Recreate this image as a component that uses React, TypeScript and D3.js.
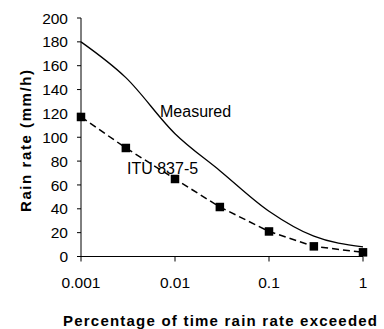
import * as d3 from "d3";

const percentages = [0.001, 0.003, 0.01, 0.03, 0.1, 0.3, 1];
const measured = [180, 150, 103, 72, 38, 17, 8];
const itu = [117, 91, 65, 41.5, 21, 8.5, 3.5];
const yTicks = [0, 20, 40, 60, 80, 100, 120, 140, 160, 180, 200];
const xTicks = [0.001, 0.01, 0.1, 1];

const W = 384;
const H = 329;
const font = "Arial, 'Liberation Sans', sans-serif";

const App = () => {
	const x = d3.scaleLog().domain([0.001, 1]).range([81, 363]);
	const y = d3.scaleLinear().domain([0, 200]).range([256.5, 18]);

	const measuredLine = d3
		.line<number>()
		.x((_, i) => x(percentages[i]))
		.y((d) => y(d))
		.curve(d3.curveMonotoneX);
	const ituLine = d3
		.line<number>()
		.x((_, i) => x(percentages[i]))
		.y((d) => y(d));

	return (
		<svg
			width={W}
			height={H}
			style={{position: "absolute", left: 0, top: 0, background: "#fff"}}
			fontFamily={font}
		>
			{/* y axis */}
			<line x1={81} x2={81} y1={y(200)} y2={y(0)} stroke="#000" />
			{yTicks.map((t) => (
				<g key={t}>
					<line x1={77} x2={81} y1={y(t)} y2={y(t)} stroke="#000" />
					<text x={68} y={y(t)} dy="0.36em" textAnchor="end" fontSize={15.5}>
						{t}
					</text>
				</g>
			))}
			{/* x axis */}
			<line x1={x(0.001)} x2={x(1)} y1={y(0)} y2={y(0)} stroke="#000" />
			{xTicks.map((t) => (
				<g key={t}>
					<line x1={x(t)} x2={x(t)} y1={y(0)} y2={y(0) + 5} stroke="#000" />
					<text x={x(t)} y={y(0) + 31} textAnchor="middle" fontSize={15.5}>
						{t}
					</text>
				</g>
			))}

			<path d={measuredLine(measured) ?? ""} fill="none" stroke="#000" strokeWidth={1.3} />
			<path
				d={ituLine(itu) ?? ""}
				fill="none"
				stroke="#000"
				strokeWidth={1.5}
				strokeDasharray="7,4"
			/>
			{itu.map((v, i) => (
				<rect
					key={i}
					x={x(percentages[i]) - 4.25}
					y={y(v) - 4.25}
					width={8.5}
					height={8.5}
					fill="#000"
				/>
			))}

			<text x={160} y={117} fontSize={16}>
				Measured
			</text>
			<text x={127} y={174} fontSize={16}>
				ITU 837-5
			</text>

			<text
				transform="translate(31,141) rotate(-90)"
				textAnchor="middle"
				fontSize={15}
				fontWeight="bold"
				textLength={142}
				lengthAdjust="spacing"
			>
				Rain rate (mm/h)
			</text>
			<text
				x={220}
				y={326}
				textAnchor="middle"
				fontSize={15}
				fontWeight="bold"
				textLength={314}
				lengthAdjust="spacing"
			>
				Percentage of time rain rate exceeded
			</text>
		</svg>
	);
};

export default App;
